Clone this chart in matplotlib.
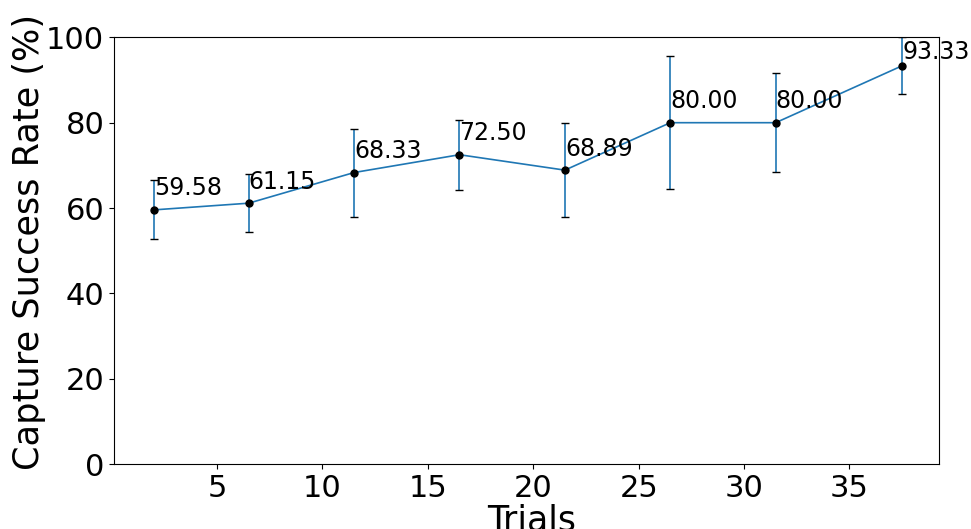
import matplotlib
matplotlib.use("Agg")
import matplotlib.pyplot as plt

trials = [2, 6.5, 11.5, 16.5, 21.5, 26.5, 31.5, 37.5]
success = [59.58, 61.15, 68.33, 72.50, 68.89, 80.00, 80.00, 93.33]
errors = [6.9, 6.85, 10.3, 8.2, 11.0, 15.6, 11.6, 6.67]

plt.rcParams['font.family'] = ['DejaVu Sans']

fig = plt.figure(figsize=(9.71, 5.29), dpi=100)
ax = fig.add_axes([0.1174, 0.1223, 0.9673 - 0.1174, 0.9295 - 0.1223])

line, caps, bars = ax.errorbar(trials, success, yerr=errors, fmt='-o', color='#1f77b4',
                               ecolor='#1f77b4', mfc='k', mec='k', ms=5,
                               lw=1.2, elinewidth=1.2, capsize=3, capthick=1)
for c in caps:
    c.set_markeredgecolor('k')
    c.set_color('k')

for x, y in zip(trials, success):
    ax.text(x, min(y + 3.4, 95.0), f'{y:.2f}', fontsize=17)

ax.set_xlim(0.11, 39.26)
ax.set_ylim(0, 100)
ax.set_yticks([0, 20, 40, 60, 80, 100])
ax.set_xticks([5, 10, 15, 20, 25, 30, 35])
ax.tick_params(labelsize=22)
ax.set_xlabel('Trials', fontsize=25, labelpad=0)
ax.set_ylabel('Capture Success Rate (%)', fontsize=25.3, labelpad=0)
ax.xaxis.label.set_x(0.5055)
ax.yaxis.label.set_y(0.521)

fig.savefig('out.png', dpi=100)
